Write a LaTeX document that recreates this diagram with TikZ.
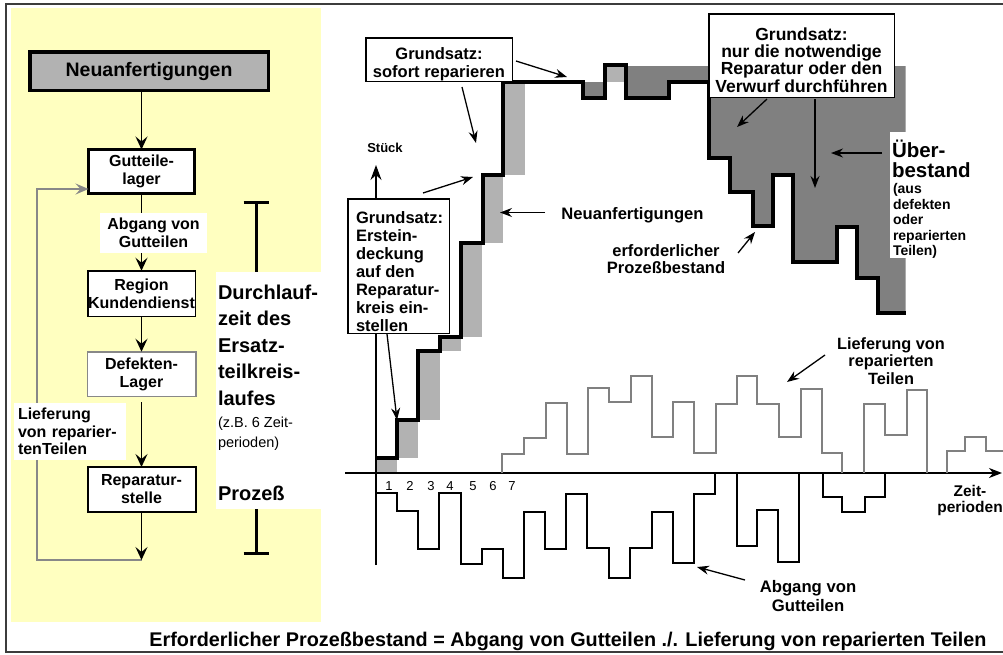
\documentclass[tikz,border=0pt]{standalone}
\usepackage{fontspec}
\setmainfont{Liberation Sans}
\usetikzlibrary{arrows.meta}
\definecolor{yel}{RGB}{255,255,192}
\definecolor{lgray}{RGB}{178,178,178}
\definecolor{dgray}{RGB}{128,128,128}
\definecolor{lngray}{RGB}{136,136,136}
\definecolor{frm}{RGB}{60,60,60}
\newcommand\fsz[2]{\fontsize{#1}{#2}\selectfont}
\begin{document}
\begin{tikzpicture}[x=1pt,y=-1pt,
 every node/.style={inner sep=0pt,outer sep=0pt},
 lbox/.style={draw, fill=white, align=center, font=\fsz{16}{18}\bfseries},
 arr/.style={-{Stealth[length=13pt,width=12pt,inset=5pt]}, line width=1.8pt},
 carr/.style={-{Stealth[length=12pt,width=9pt,inset=4pt]}, line width=1.3pt},
 txt/.style={align=center, font=\fsz{16.5}{17.7}\bfseries},
 cbox/.style={draw, fill=white, line width=1.5pt},
 thin/.style={line width=1.3pt}
 ]
\useasboundingbox (0,0) rectangle (1003,654);
% frame and yellow panel
\draw[frm, line width=2pt] (1003,4) -- (6,4) -- (6,652) -- (1003,652);
\fill[yel] (11,8) rectangle (321,622);

% ---------- left panel ----------
\node[lbox, fill=lgray, line width=3.5pt, minimum width=238.5pt, minimum height=38.5pt, font=\fsz{19.5}{22}\bfseries] (neu) at (149,71) {Neuanfertigungen};
\node[lbox, line width=3pt, minimum width=106pt, minimum height=44pt] (gut) at (141.5,171.5) {Gutteile-\\lager};
\node[lbox, line width=1.5pt, minimum width=107.5pt, minimum height=45.5pt] (reg) at (141.5,293.5) {Region\\Kundendienst};
\node[lbox, draw=lngray, line width=1.5pt, minimum width=108.5pt, minimum height=44.5pt] (def) at (141.5,374) {Defekten-\\Lager};
\node[lbox, line width=2pt, minimum width=108pt, minimum height=45pt] (rep) at (141.5,489.5) {Reparatur-\\stelle};

\draw[arr] (neu.south -| gut.north) -- (gut.north);
\draw[arr] (gut.south) -- (reg.north);
\draw[arr] (reg.south) -- (def.north);
\draw[arr] ([yshift=-6pt]def.south) -- (rep.north);
\coordinate (ret) at (141.5,560);
\coordinate (retc) at (37,560);
\draw[lngray, line width=1.5pt, -{Stealth[length=13pt,width=11pt,inset=5pt]}] (ret) -- (retc) |- ([yshift=-17.5pt]gut.west);
\draw[arr] (rep.south) -- (ret);

\node[fill=white, minimum width=107pt, minimum height=40pt, align=center, font=\fsz{16}{18}\bfseries] (abgl) at (153.5,233) {Abgang von\\Gutteilen};
\node[fill=white, text width=104pt, inner xsep=4pt, minimum height=57pt, align=left, font=\fsz{16}{17.5}\bfseries] (liefl) at (70,431.5) {Lieferung\\von reparier-\\tenTeilen};

\fill[white] (216,272) rectangle (321,509);
\node[anchor=west, align=left, font=\fsz{20}{26.5}\bfseries] (dl) at (218,345) {Durchlauf-\\zeit des\\Ersatz-\\teilkreis-\\laufes};
\node[anchor=west, align=left, font=\fsz{14.5}{20}] (zb) at (218,434) {(z.B. 6 Zeit-\\perioden)};
\node[anchor=west, font=\fsz{20}{24}\bfseries] (proz) at (218,493) {Prozeß};

\coordinate (bt) at (256,202); \coordinate (btb) at (256,272);
\coordinate (bbt) at (256,509); \coordinate (bb) at (256,553);
\draw[line width=3pt] ([xshift=-12.5pt]bt) -- ([xshift=12.5pt]bt);
\draw[line width=3pt] (bt) -- (btb);
\draw[line width=3pt] (bbt) -- (bb);
\draw[line width=3pt] ([xshift=-12.5pt]bb) -- ([xshift=12.5pt]bb);

% ---------- chart fills ----------
\fill[lgray] (376,458) rectangle (397,473);
\fill[lgray] (397,420) rectangle (418,458);
\fill[lgray] (418,351) rectangle (440,420);
\fill[lgray] (440,337) rectangle (461,351);
\fill[lgray] (461,243) rectangle (482,337);
\fill[lgray] (483,175) rectangle (503,243);
\fill[lgray] (503,82) rectangle (525,175);
\fill[lgray] (605,65) rectangle (626,82);
\fill[dgray] (583,82) rectangle (605,98);
\fill[dgray] (626,66) -- (905.7,66) -- (905.7,313) -- (878,313) -- (878,278) -- (857,278)
  -- (857,227) -- (837,227) -- (837,262) -- (793,262) -- (793,175) -- (773,175)
  -- (773,226) -- (753,226) -- (753,192) -- (730,192) -- (730,158) -- (709,158)
  -- (709,82) -- (669,82) -- (669,98) -- (626,98) -- cycle;

% ---------- axes ----------
\coordinate (yb) at (376,565); \coordinate (yt) at (376,165);
\draw[line width=1.2pt, -{Stealth[length=15pt,width=11pt,inset=5pt]}] (yb) -- (yt);
\coordinate (xl) at (345,473); \coordinate (xr) at (1002,473);
\draw[line width=1.5pt, -{Stealth[length=13pt,width=10pt,inset=4pt]}] (xl) -- (xr);

% ---------- delivery curve (gray) ----------
\draw[dgray, thin] (502,473) -- (502,454) -- (524,454) -- (524,438) -- (546,438) -- (546,403)
  -- (567,403) -- (567,454) -- (588,454) -- (588,388) -- (609,388) -- (609,402) -- (631,402)
  -- (631,376) -- (652,376) -- (652,437) -- (673,437) -- (673,402) -- (694,402) -- (694,453)
  -- (716,453) -- (716,404) -- (737,404) -- (737,376) -- (757,376) -- (757,404) -- (779,404)
  -- (779,437) -- (801,437) -- (801,389) -- (822,389) -- (822,453) -- (842,453) -- (842,473);
\draw[dgray, thin] (864,473) -- (864,404) -- (885,404) -- (885,435) -- (907,435) -- (907,390)
  -- (927,390) -- (927,473);
\draw[dgray, thin] (947,473) -- (947,451) -- (965,451) -- (965,437) -- (986,437) -- (986,451) -- (1003,451);

% ---------- Abgang curve (black) ----------
\draw[thin] (376,493) -- (397,493) -- (397,511) -- (418,511) -- (418,549) -- (439,549) -- (439,493)
  -- (461,493) -- (461,564) -- (482,564) -- (482,549) -- (503,549) -- (503,578) -- (524,578)
  -- (524,512) -- (545,512) -- (545,549) -- (566,549) -- (566,494) -- (587,494) -- (587,548)
  -- (609,548) -- (609,578) -- (630,578) -- (630,548) -- (652,548) -- (652,512) -- (673,512)
  -- (673,563) -- (694,563) -- (694,494) -- (715,494) -- (715,473);
\draw[thin] (737,473) -- (737,546) -- (757,546) -- (757,510) -- (778,510) -- (778,562) -- (799,562) -- (799,473);
\draw[thin] (823,473) -- (823,497) -- (842,497) -- (842,512) -- (865,512) -- (865,497) -- (885,497) -- (885,473);

% ---------- stock step curve ----------
\draw[line width=3.5pt] (376,458) -- (397,458) -- (397,420) -- (418,420) -- (418,351) -- (440,351)
  -- (440,337) -- (461,337) -- (461,243) -- (483,243) -- (483,175) -- (503,175) -- (503,82)
  -- (583,82) -- (583,98) -- (605,98) -- (605,65) -- (626,65) -- (626,98) -- (669,98)
  -- (669,82) -- (709,82) -- (709,158) -- (730,158) -- (730,192) -- (753,192) -- (753,226)
  -- (773,226) -- (773,175) -- (793,175) -- (793,262) -- (837,262) -- (837,227) -- (857,227)
  -- (857,278) -- (878,278) -- (878,313) -- (905.7,313);

% ---------- boxes in chart ----------
\node[cbox, minimum width=146.5pt, minimum height=43.5pt] (sof) at (439,59.5) {};
\node[txt] (soft) at (439,64.5) {Grundsatz:\\sofort reparieren};
\node[cbox, minimum width=101.5pt, minimum height=134.5pt] (ers) at (398.5,266) {};
\node[anchor=west, align=left, font=\fsz{16.5}{18}\bfseries] (erst) at (356,272) {Grundsatz:\\Erstein-\\deckung\\auf den\\Reparatur-\\kreis ein-\\stellen};
\node[cbox, minimum width=185.5pt, minimum height=83.5pt] (nur) at (801.5,55.5) {};
\node[align=center, font=\fsz{17.5}{17.3}\bfseries] (nurt) at (801.5,60) {Grundsatz:\\nur die notwendige\\Reparatur oder den\\Verwurf durchführen};

\fill[white] (890,132) rectangle (906,258);
\node[anchor=west, align=left, font=\fsz{20.5}{20}\bfseries] (ueb) at (892,159) {Über-\\bestand};
\node[anchor=west, align=left, font=\fsz{14}{15.5}\bfseries] (uebs) at (893,221) {(aus\\defekten\\oder\\reparierten\\Teilen)};

% ---------- chart labels ----------
\node[font=\fsz{13}{15}\bfseries] (st) at (385,148) {Stück};
\node[font=\fsz{16.6}{18}\bfseries] (nat) at (632.5,215) {Neuanfertigungen};
\node[txt] (erft) at (666,259) {erforderlicher\\Prozeßbestand};
\node[txt, font=\fsz{16.3}{17.5}\bfseries] (lrt) at (891,361) {Lieferung von\\reparierten\\Teilen};
\node[txt, font=\fsz{16.7}{18.3}\bfseries] (agt) at (808,596) {Abgang von\\Gutteilen};
\node[txt, font=\fsz{15.5}{16}\bfseries] (zt) at (970,500) {Zeit-\\perioden};
\foreach \n/\x in {1/389,2/410,3/431,4/450,5/473,6/493,7/512}
  \node[font=\fsz{13}{15}] (num\n) at (\x,486) {\n};
\node[font=\fsz{19.8}{22}\bfseries] (form) at (568,641) {Erforderlicher Prozeßbestand = Abgang von Gutteilen ./. Lieferung von reparierten Teilen};

% ---------- chart arrows ----------
\coordinate (a1s) at (516,61);  \coordinate (a1e) at (567,77);
\coordinate (a2s) at (462,87);  \coordinate (a2e) at (476,143);
\coordinate (a3s) at (423,193); \coordinate (a3e) at (473,177);
\coordinate (a4s) at (545,212.5); \coordinate (a4e) at (500,212.5);
\coordinate (a5s) at (387,334); \coordinate (a5e) at (397,420);
\coordinate (a6s) at (738,253); \coordinate (a6e) at (755,232);
\coordinate (a7s) at (767,99);  \coordinate (a7e) at (737,127);
\coordinate (a8s) at (815,99);  \coordinate (a8e) at (815,188);
\coordinate (a9s) at (882,153); \coordinate (a9e) at (831,153);
\coordinate (a10s) at (825,355); \coordinate (a10e) at (787,382);
\coordinate (a11s) at (745,580); \coordinate (a11e) at (697,567);
\foreach \i in {1,...,11} \draw[carr] (a\i s) -- (a\i e);
\end{tikzpicture}
\end{document}
